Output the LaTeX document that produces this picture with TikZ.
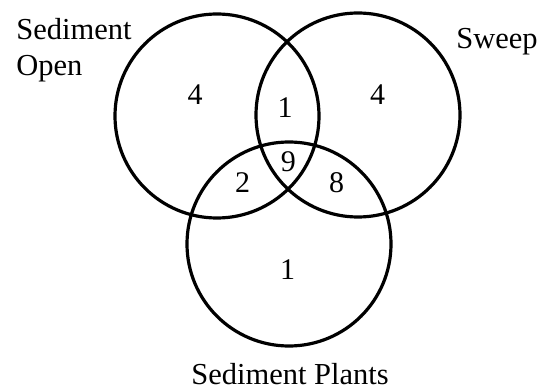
\documentclass[tikz,border=0pt]{standalone}
\usepackage{fontspec}
\setmainfont{Liberation Serif}
\begin{document}
\begin{tikzpicture}[x=1pt,y=-1pt,
  setcircle/.style={draw=black,line width=3.2pt,circle,minimum size=204pt,inner sep=0pt},
  lbl/.style={inner sep=0pt,font=\fontsize{30.5}{36}\selectfont},
  num/.style={inner sep=0pt,anchor=base,font=\fontsize{30}{36}\selectfont}]
\useasboundingbox (0,0) rectangle (549,390);
\node[setcircle] (L) at (217,116) {};
\node[setcircle] (R) at (358,115) {};
\node[setcircle] (B) at (289,244) {};
\node[num] (nL) at (195,105) {4};
\node[num] (nLR) at (285,117.3) {1};
\node[num] (nR) at (377.7,104.3) {4};
\node[num] (nLB) at (242.7,192.9) {2};
\node[num] (nLRB) at (288.3,171.8) {9};
\node[num] (nRB) at (336.7,193) {8};
\node[num] (nB) at (287.7,279.3) {1};
\node[lbl,anchor=base west] (tL1) at (16.2,40) {Sediment};
\node[lbl,anchor=base west] (tL2) at (16.2,76) {Open};
\node[lbl,anchor=base west] (tR) at (456.2,48.3) {Sweep};
\node[lbl,anchor=base] (tB) at (290,384.3) {Sediment Plants};
\end{tikzpicture}
\end{document}
